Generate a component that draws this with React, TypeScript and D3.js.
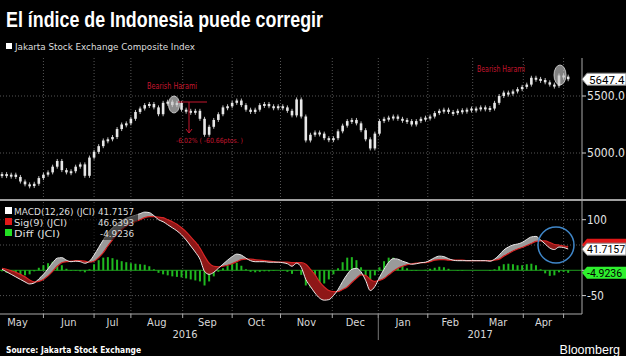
import React from 'react';
import * as d3 from 'd3';

// ---- data (sampled every 2 trading days) ----
const STEP = 2;
const closes = [
  4815, 4800, 4810, 4790, 4750, 4725, 4710, 4730, 4780, 4810,
  4830, 4880, 4930, 4850, 4830, 4840, 4880, 4900, 4800, 4960,
  5010, 5060, 5110, 5120, 5140, 5210, 5250, 5260, 5300, 5360,
  5390, 5420, 5430, 5400, 5340, 5440, 5450, 5420, 5440, 5380,
  5370, 5360, 5370, 5300, 5160, 5230, 5290, 5340, 5400, 5410,
  5440, 5460, 5420, 5380, 5360, 5380, 5420, 5430, 5410, 5400,
  5410, 5400, 5370, 5330, 5470, 5320, 5110, 5160, 5180, 5170,
  5130, 5120, 5130, 5190, 5240, 5280, 5290, 5260, 5200, 5120,
  5040, 5170, 5280, 5300, 5310, 5320, 5300, 5290, 5280, 5250,
  5280, 5300, 5310, 5320, 5350, 5370, 5380, 5360, 5350, 5370,
  5375, 5380, 5390, 5385, 5400, 5395, 5390, 5440, 5500, 5530,
  5520, 5540, 5560, 5580, 5600, 5660, 5650, 5640, 5620, 5600,
  5590, 5680, 5670, 5647,
];
const macdVals = [
  2, -3, -8, -13, -18, -23, -27, -25, -17, -8,
  3, 15, 24, 25, 20, 17, 18, 17, 14, 18,
  30, 45, 60, 74, 84, 92, 98, 103, 106, 109,
  112, 115, 114, 108, 100, 96, 90, 84, 78, 70,
  60, 48, 36, 22, -2, -8, -4, 4, 12, 20,
  27, 32, 30, 24, 19, 17, 17, 17, 16, 16,
  16, 15, 13, 8, 14, 6, -18, -32, -45, -55,
  -59, -58, -50, -38, -22, -8, 2, 4, -3, -20,
  -40, -32, -14, 2, 16, 23, 22, 18, 15, 12,
  13, 15, 16, 20, 25, 28, 27, 23, 20, 19,
  19, 19, 19, 19, 19, 19, 18, 22, 30, 40,
  46, 50, 52, 55, 61, 66, 67, 60, 52, 44,
  41, 46, 45, 42,
];
const diffVals = [
  -2, -5, -7, -9, -10, -10, -8, -2, 5, 10,
  14, 17, 16, 10, 3, -1, -1, -2, -4, 2,
  12, 20, 25, 26, 24, 21, 18, 16, 14, 13,
  12, 11, 8, 2, -5, -8, -10, -12, -13, -14,
  -16, -18, -20, -22, -30, -22, -12, -3, 4, 10,
  14, 15, 9, 2, -3, -4, -3, -2, -2, -1,
  0, -1, -3, -7, -1, -9, -30, -34, -36, -32,
  -26, -18, -8, 4, 16, 25, 26, 20, 6, -10,
  -22, -10, 6, 18, 25, 25, 18, 10, 4, -1,
  -1, 0, 1, 3, 5, 7, 6, 3, 0, -1,
  -1, 0, 0, 0, 0, 0, -1, 2, 8, 12,
  13, 12, 10, 10, 12, 13, 10, 2, -6, -11,
  -10, -4, -3, -5,
];

const monthLabels = ['May', 'Jun', 'Jul', 'Aug', 'Sep', 'Oct', 'Nov', 'Dec', 'Jan', 'Feb', 'Mar', 'Apr'];
// month boundaries in trading-day units (May start .. May 2017 start)
const monthStartDay = [-4.5, 18, 40, 56, 78.5, 100, 121, 143.5, 163.5, 185, 204.5, 226.5, 244];
const yearLabels = ['2016', '2017'];
const yearSpans = [[-4.5, 163.5], [163.5, 252]];
const priceTicks = [5000, 5500];
const macdTicks = [-50, 0, 50, 100];
const macdLabelTicks = [-50, 100];
const lastPrice = 5647.4;
const lastMacd = 41.7157;
const lastSig = 46.6393;
const lastDiff = -4.9236;

const FONT = "'DejaVu Sans Condensed', 'DejaVu Sans', sans-serif";
const NARROW = "'Liberation Sans Narrow', 'Arial Narrow', sans-serif";
const TAGFONT = "Roboto, 'Noto Sans', sans-serif";

export default function App() {
  const x = d3.scaleLinear().domain([0, 252]).range([2, 582]);
  const yP = d3.scaleLinear().domain([5000, 5500]).range([153, 96]);
  const yM = d3.scaleLinear().domain([-50, 100]).range([295.6, 219.7]);

  const pts = closes.map((c, i) => ({
    d: i * STEP,
    c,
    o: i === 0 ? c : closes[i - 1],
    m: macdVals[i],
    df: diffVals[i],
    s: macdVals[i] - diffVals[i],
  }));

  const lineM = d3.line<any>().x(p => x(p.d)).y(p => yM(p.m)).curve(d3.curveMonotoneX);
  const lineS = d3.line<any>().x(p => x(p.d)).y(p => yM(p.s)).curve(d3.curveMonotoneX);
  const band = d3.area<any>().x(p => x(p.d)).y0(p => yM(p.s)).y1(p => yM(p.m)).curve(d3.curveMonotoneX);
  const aboveSig = d3.area<any>().x(p => x(p.d)).y0(202).y1(p => yM(p.s)).curve(d3.curveMonotoneX);
  const belowSig = d3.area<any>().x(p => x(p.d)).y0(314).y1(p => yM(p.s)).curve(d3.curveMonotoneX);

  const tag = (y: number) => `M582,${y} L587,${y - 6} L626,${y - 6} L626,${y + 6} L587,${y + 6} Z`;

  const gridDays = monthStartDay.slice(1);

  return (
    <svg width={626} height={356} style={{ position: 'absolute', left: 0, top: 0, background: '#000' }}>
      <defs>
        <clipPath id="pTop"><rect x={0} y={58} width={582} height={140} /></clipPath>
        <clipPath id="pBot"><rect x={0} y={202} width={582} height={112} /></clipPath>
        <clipPath id="above"><path d={aboveSig(pts) || ''} /></clipPath>
        <clipPath id="below"><path d={belowSig(pts) || ''} /></clipPath>
      </defs>
      <rect x={0} y={0} width={626} height={356} fill="#000" />

      {/* title */}
      <text x={6} y={27} fill="#fff" fontFamily={NARROW} fontWeight="bold" fontSize={22} textLength={317} lengthAdjust="spacingAndGlyphs">El índice de Indonesia puede corregir</text>
      <rect x={6} y={43} width={6} height={6} fill="#fff" />
      <text x={15} y={49.5} fill="#ddd" fontFamily={FONT} fontSize={9.5} textLength={180} lengthAdjust="spacingAndGlyphs">Jakarta Stock Exchange Composite Index</text>

      {/* grids */}
      {gridDays.map((d, i) => (
        <g key={'vg' + i}>
          <line x1={x(d)} x2={x(d)} y1={58} y2={198} stroke="#555" strokeDasharray="1,2" />
          <line x1={x(d)} x2={x(d)} y1={202} y2={314} stroke="#555" strokeDasharray="1,2" />
        </g>
      ))}
      {priceTicks.map(t => (
        <line key={'hp' + t} x1={0} x2={582} y1={yP(t)} y2={yP(t)} stroke="#555" strokeDasharray="1,2" />
      ))}
      {macdTicks.filter(t => t !== 0).map(t => (
        <line key={'hm' + t} x1={0} x2={582} y1={yM(t)} y2={yM(t)} stroke="#555" strokeDasharray="1,2" />
      ))}

      {/* candles */}
      <g clipPath="url(#pTop)">
        {pts.map((p, i) => {
          const y1 = yP(Math.max(p.o, p.c));
          const y2 = yP(Math.min(p.o, p.c));
          const h = Math.max(2, y2 - y1);
          const cx = x(p.d);
          return (
            <g key={'c' + i}>
              <line x1={cx} x2={cx} y1={y1 - 2} y2={y1 + h + 2} stroke="#bbb" strokeWidth={1} />
              <rect x={cx - 1.3} y={y1} width={2.6} height={h} fill="#e8e8e8" />
            </g>
          );
        })}
      </g>

      {/* annotation 1 */}
      <text x={172} y={89} fill="#c4162e" fontFamily={FONT} fontSize={8} textAnchor="middle" textLength={50} lengthAdjust="spacingAndGlyphs">Bearish Harami</text>
      <ellipse cx={174} cy={104.5} rx={5.5} ry={8.5} fill="rgba(200,200,200,0.7)" stroke="#ddd" strokeWidth={0.8} />
      <line x1={178} x2={207} y1={102} y2={102} stroke="#c4162e" strokeWidth={1} />
      <line x1={189} x2={189} y1={102} y2={133} stroke="#c4162e" strokeWidth={1} />
      <path d="M186,129 L189,133 L192,129" fill="none" stroke="#c4162e" strokeWidth={1} />
      <text x={176} y={143} fill="#c4162e" fontFamily={FONT} fontSize={7} textLength={67} lengthAdjust="spacingAndGlyphs">-6.02% ( -60.66ptos. )</text>

      {/* annotation 2 */}
      <text x={501} y={72} fill="#c4162e" fontFamily={FONT} fontSize={8} textAnchor="middle" textLength={48} lengthAdjust="spacingAndGlyphs">Bearish Harami</text>
      <ellipse cx={560} cy={75} rx={6} ry={10} fill="rgba(200,200,200,0.65)" stroke="#ddd" strokeWidth={0.8} />

      {/* divider */}
      <line x1={0} x2={626} y1={200} y2={200} stroke="#a0a0a0" strokeWidth={2} />

      {/* MACD panel */}
      <g clipPath="url(#pBot)">
        <line x1={0} x2={582} y1={yM(0)} y2={yM(0)} stroke="#1f9a1f" strokeWidth={1} />
        {pts.map((p, i) => (
          <rect key={'b' + i} x={x(p.d) - 1} width={2}
            y={Math.min(yM(0), yM(p.df))} height={Math.abs(yM(p.df) - yM(0))} fill="#1fb81f" />
        ))}
        <path d={band(pts) || ''} fill="#9a9a9a" clipPath="url(#above)" />
        <path d={band(pts) || ''} fill="#8e1717" clipPath="url(#below)" />
        <path d={lineS(pts) || ''} fill="none" stroke="#d82424" strokeWidth={1.2} />
        <path d={lineM(pts) || ''} fill="none" stroke="#eaeaea" strokeWidth={1} />
      </g>

      {/* MACD legend */}
      <rect x={0} y={203} width={138} height={37} fill="rgba(0,0,0,0.55)" />
      <rect x={5} y={207} width={7} height={7} fill="#fff" />
      <rect x={5} y={218} width={7} height={7} fill="#e01818" />
      <rect x={5} y={229} width={7} height={7} fill="#22e022" />
      <g fontFamily={FONT} fontSize={9.5} fill="#ddd">
        <text x={14} y={214.5} textLength={81} lengthAdjust="spacingAndGlyphs">MACD(12,26) (JCI)</text>
        <text x={14} y={225.5} textLength={53} lengthAdjust="spacingAndGlyphs">Sig(9) (JCI)</text>
        <text x={14} y={236.5} textLength={46} lengthAdjust="spacingAndGlyphs">Diff (JCI)</text>
        <text x={134} y={214.5} textAnchor="end" textLength={36} lengthAdjust="spacingAndGlyphs">{lastMacd.toFixed(4)}</text>
        <text x={134} y={225.5} textAnchor="end" textLength={36} lengthAdjust="spacingAndGlyphs">{lastSig.toFixed(4)}</text>
        <text x={134} y={236.5} textAnchor="end" textLength={34} lengthAdjust="spacingAndGlyphs">{lastDiff.toFixed(4)}</text>
      </g>

      {/* blue circle */}
      <circle cx={556} cy={245} r={18} fill="none" stroke="#3f86c8" strokeWidth={1.5} />

      {/* right axis */}
      <line x1={582} x2={582} y1={58} y2={314} stroke="#aaa" strokeWidth={1} />
      <g fontFamily={FONT} fontSize={11.5} fill="#e6e6e6">
        {priceTicks.map(t => (
          <g key={'pt' + t}>
            <line x1={582} x2={586} y1={yP(t)} y2={yP(t)} stroke="#ccc" />
            <text x={587} y={yP(t)} dominantBaseline="central" textLength={38} lengthAdjust="spacingAndGlyphs">{t.toFixed(1)}</text>
          </g>
        ))}
        {macdTicks.map(t => (
          <line key={'mtk' + t} x1={582} x2={586} y1={yM(t)} y2={yM(t)} stroke="#ccc" />
        ))}
        {macdLabelTicks.map(t => (
          <text key={'mt' + t} x={587} y={yM(t)} dominantBaseline="central">{t}</text>
        ))}
      </g>

      {/* value tags */}
      <path d={tag(yP(lastPrice))} fill="#fff" stroke="#888" />
      <text x={589} y={yP(lastPrice) + 0.5} dominantBaseline="central" fontFamily={TAGFONT} fontSize={11.5} fill="#000">{lastPrice.toFixed(1)}</text>
      <path d={tag(yM(lastSig) - 2)} fill="#e01818" />
      <path d={tag(yM(lastMacd))} fill="#fff" stroke="#888" />
      <text x={587} y={yM(lastMacd) + 0.5} dominantBaseline="central" fontFamily={TAGFONT} fontSize={10.5} fill="#000">{lastMacd.toFixed(4)}</text>
      <path d={tag(yM(lastDiff))} fill="#2ef02e" />
      <text x={587} y={yM(lastDiff) + 0.5} dominantBaseline="central" fontFamily={TAGFONT} fontSize={10.5} fill="#000">{lastDiff.toFixed(4)}</text>

      {/* x axis */}
      <line x1={0} x2={582} y1={314} y2={314} stroke="#aaa" />
      {gridDays.map((d, i) => (
        <line key={'xt' + i} x1={x(d)} x2={x(d)} y1={314} y2={318} stroke="#aaa" />
      ))}
      <line x1={x(monthStartDay[8])} x2={x(monthStartDay[8])} y1={314} y2={340} stroke="#777" />
      <g fontFamily={FONT} fontSize={11} fill="#d8d8d8" textAnchor="middle">
        {monthLabels.map((m, i) => (
          <text key={m} x={(x(monthStartDay[i]) + x(monthStartDay[i + 1])) / 2} y={326}>{m}</text>
        ))}
        {yearLabels.map((yl, i) => (
          <text key={yl} x={(x(yearSpans[i][0]) + x(yearSpans[i][1])) / 2} y={338}>{yl}</text>
        ))}
      </g>

      {/* footer */}
      <text x={6} y={353} fill="#fff" fontFamily="'DejaVu Sans', sans-serif" fontWeight="bold" fontSize={9.5} textLength={135} lengthAdjust="spacingAndGlyphs">Source: Jakarta Stock Exchange</text>
      <text x={620} y={354} fill="#fff" fontFamily="'Liberation Sans', Arial, sans-serif" fontSize={12.5} textAnchor="end">Bloomberg</text>
    </svg>
  );
}
